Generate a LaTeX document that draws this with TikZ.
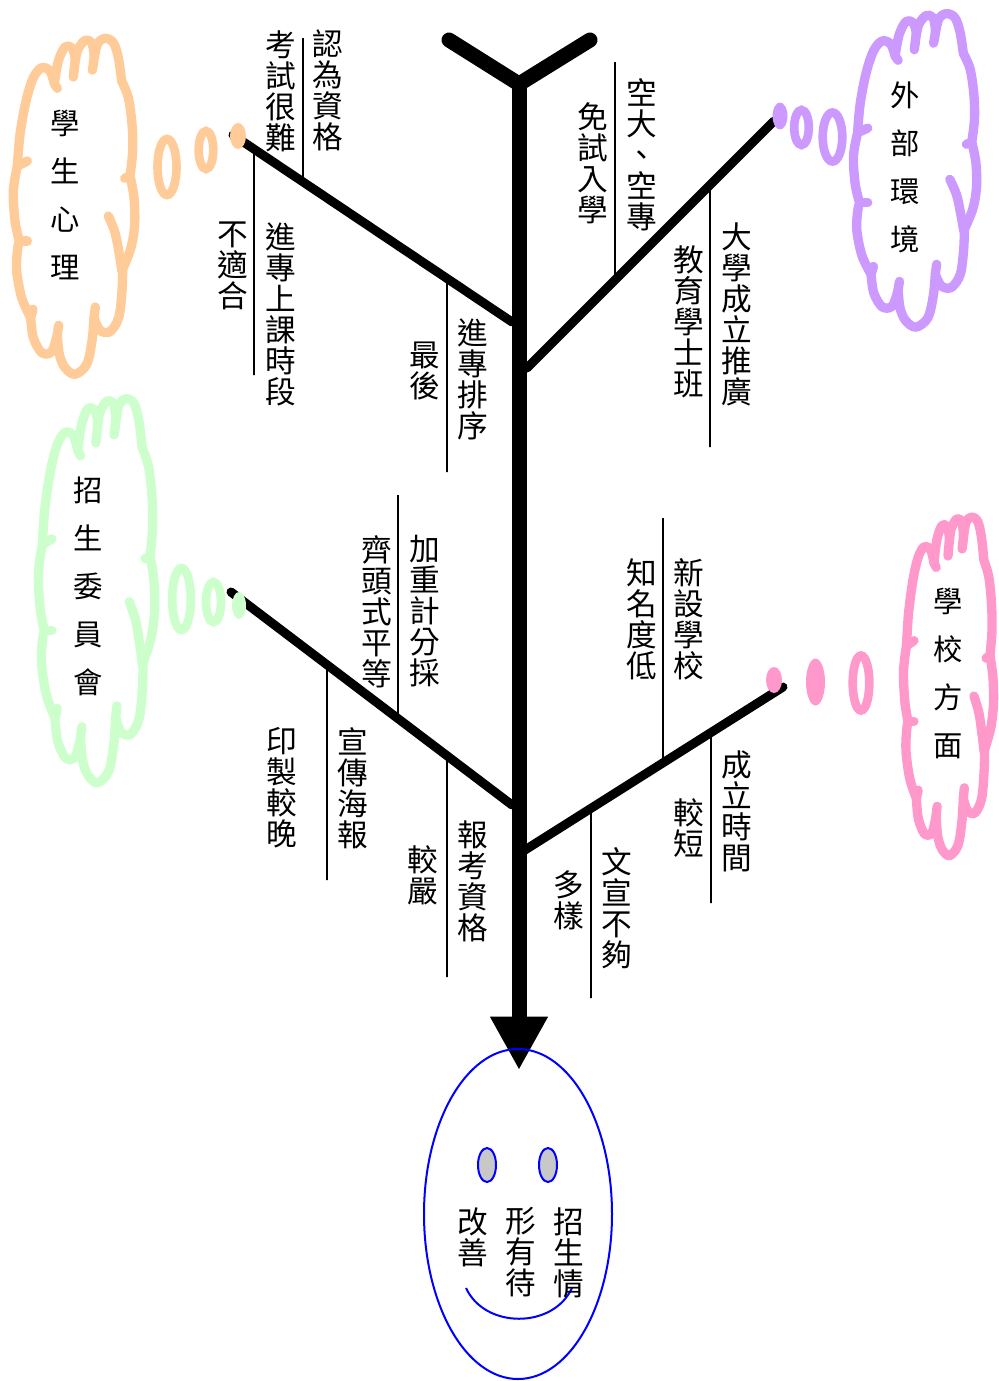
\documentclass[tikz,border=0pt]{standalone}
\usepackage{fontspec}
\newfontfamily\cjk{Noto Sans CJK TC}
\usetikzlibrary{shapes.geometric,calc,arrows.meta}
\definecolor{peach}{HTML}{FFCC99}
\definecolor{lilac}{HTML}{CC99FF}
\definecolor{mint}{HTML}{CCFFCC}
\definecolor{rose}{HTML}{FF99CC}
\definecolor{eyegray}{HTML}{C8C8C8}
% office-like cloud outline, traced in units of 1/3 px around centre (222,548)
\newcommand\drawcloud[5]{%
\begin{scope}[shift={(#1,#2)},xscale=#3,yscale=#4,shift={(-222,-548)}]
\draw[cloudline,draw=#5]
  plot[smooth,tension=0.55] coordinates {(52,425) (60,330) (78,230) (100,160) (125,130) (150,140) (163,178)}
  -- plot[smooth,tension=0.55] coordinates {(163,178) (175,110) (195,68) (215,70) (225,100) (222,140)}
  -- plot[smooth,tension=0.55] coordinates {(222,140) (232,80) (255,48) (275,55) (282,90) (280,120)}
  -- plot[smooth,tension=0.55] coordinates {(280,120) (292,60) (315,42) (340,55) (355,100) (365,170)}
  -- plot[smooth,tension=0.55] coordinates {(365,170) (385,220) (396,300) (398,380) (390,455)}
  -- plot[smooth,tension=0.55] coordinates {(390,455) (402,520) (404,600) (393,670) (368,735)}
  -- plot[smooth,tension=0.55] coordinates {(368,735) (366,800) (356,880) (330,922) (300,918) (282,880)}
  -- plot[smooth,tension=0.55] coordinates {(282,880) (276,950) (260,1020) (225,1050) (195,1030) (178,990) (172,930)}
  -- plot[smooth,tension=0.55] coordinates {(172,930) (155,982) (125,985) (100,940) (92,880)}
  -- plot[smooth,tension=0.55] coordinates {(92,880) (65,820) (50,740) (52,680) (58,650)}
  -- plot[smooth,tension=0.55] coordinates {(58,650) (45,590) (40,500) (52,425)} -- cycle;
\draw[cloudline,draw=#5] (163,178) -- (172,192);
\draw[cloudline,draw=#5] (222,140) -- (220,158);
\draw[cloudline,draw=#5] (280,120) -- (277,137);
\draw[cloudline,draw=#5] (390,455) -- (374,462);
\draw[cloudline,draw=#5] (282,880) -- (286,848);
\draw[cloudline,draw=#5] (172,930) -- (176,903);
\draw[cloudline,draw=#5] (92,880) -- (99,855);
\draw[cloudline,draw=#5] (58,650) -- (82,650);
\draw[cloudline,draw=#5] (52,425) -- (82,410);
\draw[cloudline,draw=#5] plot[smooth,tension=0.6] coordinates {(325,575) (345,625) (358,690) (366,740)};
\end{scope}}
\begin{document}
\begin{tikzpicture}[x=0.75pt,y=-0.75pt,
  spinestyle/.style={line width=11.25pt},
  branchstyle/.style={line width=6.75pt,line cap=round},
  tickstyle/.style={line width=1.2pt},
  lbl/.style={font=\cjk\fontsize{23}{23.25}\selectfont,align=center,inner sep=0pt,anchor=north},
  cloudtxt/.style={font=\cjk\fontsize{22}{36}\selectfont,align=center,inner sep=0pt,anchor=north},
  cloudline/.style={line width=7pt,line cap=round,line join=round},
  ring/.style={line width=6.5pt},
  facestyle/.style={draw=blue,line width=1.5pt}]
\useasboundingbox (0,0) rectangle (999,1381);

% clouds
\drawcloud{74}{207}{0.3333}{0.3333}{peach}
\drawcloud{915}{171}{0.338}{0.311}{lilac}
\drawcloud{96.5}{591.5}{0.319}{0.381}{mint}
\drawcloud{948.5}{687}{0.247}{0.336}{rose}
\node[cloudtxt] (tpsy) at (65,110) {學\\生\\心\\理};
\node[cloudtxt] (text) at (905,82) {外\\部\\環\\境};
\node[cloudtxt] (tcom) at (88,477) {招\\生\\委\\員\\會};
\node[cloudtxt] (tsch) at (948,588) {學\\校\\方\\面};

% branch end coordinates
\coordinate (ul0) at (233,135); \coordinate (ul1) at (512,322);
\coordinate (ur0) at (774,121); \coordinate (ur1) at (527,368);
\coordinate (ll0) at (231,592); \coordinate (ll1) at (512,805);
\coordinate (lr0) at (783,687); \coordinate (lr1) at (525,850);

% ticks
\coordinate (k1) at (303,38);  \draw[tickstyle] (k1) -- ($(ul0)!{(303-233)/279}!(ul1)$);
\coordinate (k2) at (254,375); \draw[tickstyle] (k2) -- ($(ul0)!{(254-233)/279}!(ul1)$);
\coordinate (k3) at (447,472); \draw[tickstyle] (k3) -- ($(ul0)!{(447-233)/279}!(ul1)$);
\coordinate (k4) at (615,62);  \draw[tickstyle] (k4) -- ($(ur0)!{(774-615)/247}!(ur1)$);
\coordinate (k5) at (710,447); \draw[tickstyle] (k5) -- ($(ur0)!{(774-710)/247}!(ur1)$);
\coordinate (k6) at (398,495); \draw[tickstyle] (k6) -- ($(ll0)!{(398-231)/281}!(ll1)$);
\coordinate (k7) at (327,880); \draw[tickstyle] (k7) -- ($(ll0)!{(327-231)/281}!(ll1)$);
\coordinate (k8) at (447,977); \draw[tickstyle] (k8) -- ($(ll0)!{(447-231)/281}!(ll1)$);
\coordinate (k9) at (663,518); \draw[tickstyle] (k9) -- ($(lr0)!{(783-663)/258}!(lr1)$);
\coordinate (k10) at (711,903); \draw[tickstyle] (k10) -- ($(lr0)!{(783-711)/258}!(lr1)$);
\coordinate (k11) at (591,998); \draw[tickstyle] (k11) -- ($(lr0)!{(783-591)/258}!(lr1)$);

% branches
\draw[branchstyle] (ul0) -- (ul1);
\draw[branchstyle] (ur0) -- (ur1);
\draw[branchstyle] (ll0) -- (ll1);
\draw[branchstyle] (lr0) -- (lr1);

% bubbles
\draw[ring,draw=peach] (167,167) ellipse [x radius=9.5,y radius=28];
\draw[ring,draw=peach] (206,150) ellipse [x radius=7.3,y radius=19];
\fill[peach] (238,136) ellipse [x radius=8,y radius=13];
\fill[lilac] (780,116) ellipse [x radius=7.5,y radius=13.5];
\draw[ring,draw=lilac] (801.5,127.5) ellipse [x radius=7.3,y radius=17.5];
\draw[ring,draw=lilac] (832.5,137) ellipse [x radius=9.8,y radius=24.5];
\draw[ring,draw=mint] (181.5,599) ellipse [x radius=9.3,y radius=31];
\draw[ring,draw=mint] (213.5,602) ellipse [x radius=7.5,y radius=20];
\fill[mint] (239,605.5) ellipse [x radius=7,y radius=13.5];
\fill[rose] (774,680) ellipse [x radius=8,y radius=13];
\fill[rose] (815.5,682) ellipse [x radius=9.5,y radius=23.5];
\draw[ring,draw=rose] (861,683) ellipse [x radius=8.3,y radius=27.5];

% spine
\coordinate (yl) at (449,40); \coordinate (yr) at (590,40);
\coordinate (jn) at (519,84); \coordinate (tip) at (519,1070);
\draw[spinestyle,line cap=round,line join=round] (yl) -- (jn) -- (yr);
\draw[spinestyle,-{Triangle[length=40pt,width=40.5pt]}] (jn) -- (tip);

% face
\node[ellipse,facestyle,minimum width=141pt,minimum height=247.5pt,inner sep=0pt] (face) at (518,1214) {};
\draw[facestyle,fill=eyegray] (487,1165) ellipse [x radius=9,y radius=17];
\draw[facestyle,fill=eyegray] (548,1165) ellipse [x radius=9,y radius=17];
\draw[facestyle] (466,1288) .. controls (485,1329) and (553,1329) .. (572,1288);
\node[lbl] (f1) at (569,1207) {招\\生\\情};
\node[lbl] (f2) at (521,1207) {形\\有\\待};
\node[lbl] (f3) at (473,1207) {改\\善};

% labels
\node[lbl] (a1) at (328,30) {認\\為\\資\\格};
\node[lbl] (a2) at (281,30) {考\\試\\很\\難};
\node[lbl] (a3) at (281,222) {進\\專\\上\\課\\時\\段};
\node[lbl] (a4) at (233,222) {不\\適\\合};
\node[lbl] (a5) at (473,318) {進\\專\\排\\序};
\node[lbl] (a6) at (425,342) {最\\後};
\node[lbl] (b1) at (642,78) {空\\大\\、\\空\\專};
\node[lbl] (b2) at (593,102) {免\\試\\入\\學};
\node[lbl] (b3) at (737,222) {大\\學\\成\\立\\推\\廣};
\node[lbl] (b4) at (689,245) {教\\育\\學\\士\\班};
\node[lbl] (c1) at (425,535) {加\\重\\計\\分\\採};
\node[lbl] (c2) at (377,535) {齊\\頭\\式\\平\\等};
\node[lbl] (c3) at (353,727) {宣\\傳\\海\\報};
\node[lbl] (c4) at (282,727) {印\\製\\較\\晚};
\node[lbl] (c5) at (473,820) {報\\考\\資\\格};
\node[lbl] (c6) at (423,845) {較\\嚴};
\node[lbl] (d1) at (689,558) {新\\設\\學\\校};
\node[lbl] (d2) at (642,558) {知\\名\\度\\低};
\node[lbl] (d3) at (737,750) {成\\立\\時\\間};
\node[lbl] (d4) at (689,798) {較\\短};
\node[lbl] (d5) at (617,847) {文\\宣\\不\\夠};
\node[lbl] (d6) at (569,870) {多\\樣};
\end{tikzpicture}
\end{document}
